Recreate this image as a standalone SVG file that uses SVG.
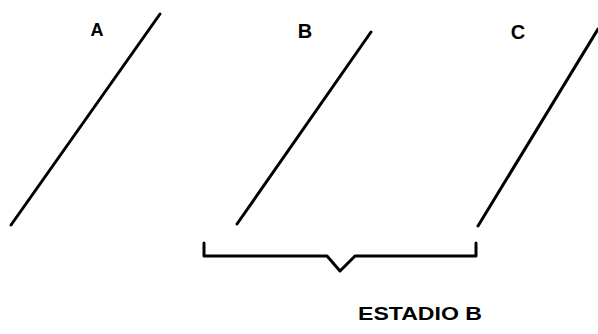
<svg xmlns="http://www.w3.org/2000/svg" width="598" height="334" viewBox="0 0 598 334">
<style>
.ln{fill:none;stroke:#000;stroke-width:3;stroke-linecap:round;stroke-linejoin:round}
.lbl{font-family:"Liberation Sans",Arial,sans-serif;font-weight:bold;fill:#000}
</style>
<rect width="598" height="334" fill="#fff"/>
<g id="lineA">
<path class="ln" d="M160,14 L11,225"/>
<text class="lbl" x="97" y="36" font-size="18" text-anchor="middle">A</text>
</g>
<g id="lineB">
<path class="ln" d="M371,32 L237,224"/>
<text class="lbl" x="305" y="38" font-size="20" text-anchor="middle">B</text>
</g>
<g id="lineC">
<path class="ln" d="M598,29 L478,226"/>
<text class="lbl" x="518" y="39" font-size="20" text-anchor="middle">C</text>
</g>
<g id="bracket">
<path class="ln" stroke-width="2.5" d="M204,243 L204,256 L327,256 L340,271 L355,256 L476,256 L476,243"/>
<text class="lbl" x="358" y="320" font-size="18" textLength="124" lengthAdjust="spacingAndGlyphs">ESTADIO B</text>
</g>
</svg>
